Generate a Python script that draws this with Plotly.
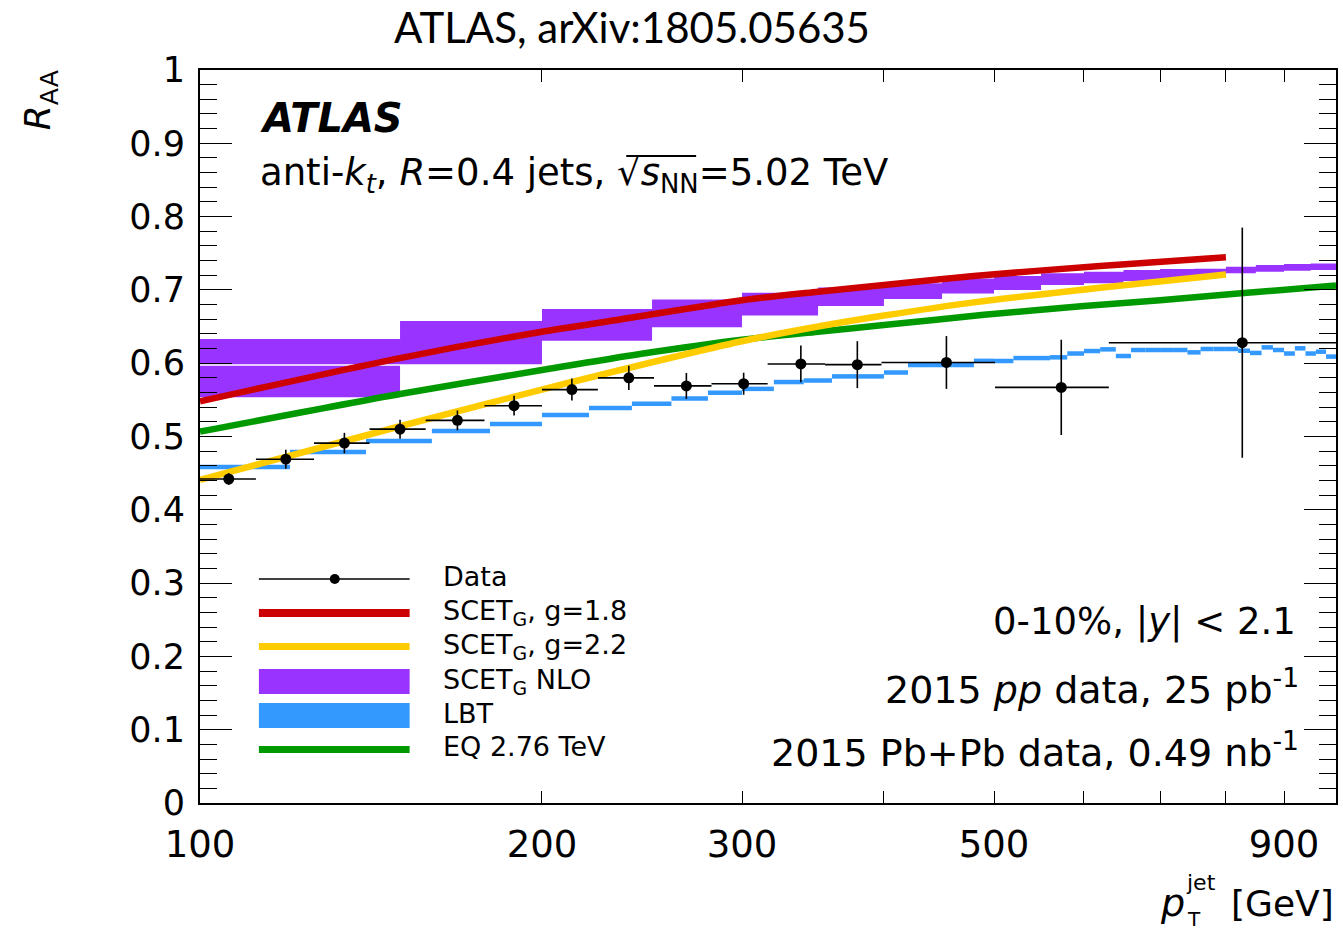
import plotly.graph_objects as go

# ---------------- ATLAS jet R_AA, 0-10% centrality ----------------
pt_lo = [100, 112, 126, 141, 158, 178, 200, 224, 251, 282, 316, 355, 398, 501, 631]
pt_hi = [112, 126, 141, 158, 178, 200, 224, 251, 282, 316, 355, 398, 501, 631, 1000]
pt_c = [106, 119, 134, 150, 168.5, 189, 212.5, 238.5, 268, 301, 338, 379, 454, 573, 827]
raa = [0.442, 0.469, 0.491, 0.510, 0.522, 0.542, 0.564, 0.580, 0.569, 0.572,
       0.599, 0.598, 0.601, 0.567, 0.628]
raa_err = [0.008, 0.013, 0.014, 0.013, 0.0135, 0.0135, 0.015, 0.0165, 0.0177, 0.015,
           0.025, 0.032, 0.036, 0.065, 0.157]

# ---------------- SCET_G, g = 1.8 ----------------
scet18_pt = [100, 150, 200, 235, 300, 350, 400, 480, 620, 800]
scet18 = [0.548, 0.607, 0.643, 0.660, 0.686, 0.6976, 0.7067, 0.719, 0.7326, 0.7444]

# ---------------- SCET_G, g = 2.2 ----------------
scet22_pt = [100, 150, 212, 300, 350, 400, 480, 620, 800]
scet22 = [0.441, 0.514, 0.574, 0.630, 0.650, 0.665, 0.683, 0.703, 0.721]

# ---------------- EQ 2.76 TeV ----------------
eq_pt = [100, 150, 200, 244, 300, 350, 400, 490, 600, 700, 820, 1000]
eq = [0.5066, 0.558, 0.5907, 0.6126, 0.632, 0.643, 0.652, 0.666, 0.678, 0.686, 0.695, 0.706]

# ---------------- SCET_G NLO band (bin edges, lower, upper) ----------------
nlo_lo = [100, 100, 150, 200, 250, 300, 350, 400, 450, 500, 550, 600, 650, 700, 750,
          800, 850, 900, 950]
nlo_hi = [150, 150, 200, 250, 300, 350, 400, 450, 500, 550, 600, 650, 700, 750, 800,
          850, 900, 950, 1000]
nlo_min = [0.5535, 0.5985, 0.5985, 0.6305, 0.649, 0.665, 0.678, 0.6875, 0.695, 0.6998,
           0.7067, 0.709, 0.712, 0.7155, 0.718, 0.7226, 0.7249, 0.726, 0.7271]
nlo_max = [0.5965, 0.633, 0.6576, 0.674, 0.687, 0.696, 0.7033, 0.709, 0.7155, 0.719,
           0.7226, 0.7249, 0.7271, 0.7285, 0.729, 0.7317, 0.734, 0.7353, 0.736]

# ---------------- LBT, 20 GeV bins from 100 to 1000 GeV ----------------
lbt_edges = list(range(100, 1001, 20))
lbt = [0.4584, 0.479, 0.494, 0.5075, 0.517, 0.5295, 0.539, 0.5448, 0.552, 0.5596,
       0.565, 0.5743, 0.5764, 0.582, 0.582, 0.5873, 0.5975, 0.5975, 0.5975, 0.6032,
       0.603, 0.607, 0.607, 0.608, 0.6132, 0.6166, 0.6189, 0.6098, 0.618, 0.618,
       0.618, 0.618, 0.6148, 0.6194, 0.6194, 0.6194, 0.617, 0.614, 0.6216, 0.618,
       0.6132, 0.6203, 0.6132, 0.6157, 0.609]

# labelled and unlabelled x ticks
x_tickvals = [100, 200, 300, 500, 900]
x_ticktext = ["100", "200", "300", "500", "900"]
x_minorvals = [400, 600, 700, 800, 1000]

RED = "#CC0000"
YELLOW = "#FFCC00"
PURPLE = "#9933FF"
BLUE = "#3399FF"
GREEN = "#009900"
FONT = "DejaVu Sans"

W, H = 1343, 937
ML, MR, MT, MB = 200, 5, 70, 134
PW = W - ML - MR
PH = H - MT - MB


def xp(px):
    return (px - ML) / PW


def yp(py):
    return (H - MB - py) / PH


fig = go.Figure()

# NLO band as filled boxes
bx, by = [], []
for lo, hi, ylo, yhi in zip(nlo_lo, nlo_hi, nlo_min, nlo_max):
    bx += [lo, hi, hi, lo, lo, None]
    by += [ylo, ylo, yhi, yhi, ylo, None]
fig.add_trace(go.Scatter(x=bx, y=by, mode="lines", fill="toself", fillcolor=PURPLE,
                         line=dict(width=0, color=PURPLE), hoverinfo="skip"))

# LBT as separate horizontal bars
lx, ly = [], []
for i, v in enumerate(lbt):
    lx += [lbt_edges[i], lbt_edges[i + 1], None]
    ly += [v, v, None]
fig.add_trace(go.Scatter(x=lx, y=ly, mode="lines", line=dict(color=BLUE, width=4.5),
                         hoverinfo="skip"))

# theory curves
fig.add_trace(go.Scatter(x=eq_pt, y=eq, mode="lines",
                         line=dict(color=GREEN, width=6.5, shape="spline", smoothing=0.8)))
fig.add_trace(go.Scatter(x=scet22_pt, y=scet22, mode="lines",
                         line=dict(color=YELLOW, width=6.5, shape="spline", smoothing=0.8)))
fig.add_trace(go.Scatter(x=scet18_pt, y=scet18, mode="lines",
                         line=dict(color=RED, width=6.5, shape="spline", smoothing=0.8)))

# data points
fig.add_trace(go.Scatter(
    x=pt_c, y=raa, mode="markers",
    marker=dict(color="black", size=11),
    error_y=dict(type="data", array=raa_err, width=0, thickness=1.6, color="black"),
    error_x=dict(type="data", array=[h - c for h, c in zip(pt_hi, pt_c)],
                 arrayminus=[c - l for c, l in zip(pt_c, pt_lo)],
                 width=0, thickness=1.6, color="black"),
))

shapes = []
annotations = []


def text(px, py, s, size=36, xanchor="left", yanchor="middle", **kw):
    annotations.append(dict(x=xp(px), y=yp(py), xref="paper", yref="paper", text=s,
                            showarrow=False, xanchor=xanchor, yanchor=yanchor,
                            font=dict(family=FONT, size=size, color="black"), **kw))


def rect(x0, x1, y0, y1, color):
    shapes.append(dict(type="rect", xref="paper", yref="paper", x0=xp(x0), x1=xp(x1),
                       y0=yp(y1), y1=yp(y0), fillcolor=color, line=dict(width=0)))


# title
annotations.append(dict(x=xp(633), y=yp(27), xref="paper", yref="paper",
                        text="ATLAS, arXiv:1805.05635", showarrow=False,
                        xanchor="center", yanchor="middle",
                        font=dict(family="Lato", size=42, color="black")))

# y-axis title
text(40, 100, "<i>R</i><sub>AA</sub>", size=36, xanchor="center", textangle=-90)

# x-axis title
text(1160, 903, "<i>p</i>", size=38)
text(1186, 882, "jet", size=22)
text(1187, 919, "T", size=20)
text(1338, 903, "[GeV]", size=36, xanchor="right")

# in-plot labels
text(258, 118, "<b><i>ATLAS</i></b>", size=40)
text(258, 175, "anti-<i>k</i><sub><i>t</i></sub>, <i>R</i>=0.4 jets, "
               "√<i>s</i><sub>NN</sub>=5.02 TeV", size=37)
# overline of the square root
shapes.append(dict(type="line", xref="paper", yref="paper", x0=xp(627), x1=xp(697),
                   y0=yp(156), y1=yp(156), line=dict(color="black", width=2)))

text(1300, 621, "0-10%, |<i>y</i>| &lt; 2.1", size=37, xanchor="right")
text(1303, 687, "2015 <i>pp</i> data, 25 pb<sup>-1</sup>", size=38, xanchor="right")
text(1303, 750, "2015 Pb+Pb data, 0.49 nb<sup>-1</sup>", size=38, xanchor="right")

# legend
leg_x0, leg_x1, leg_tx = 259, 410, 441
shapes.append(dict(type="line", xref="paper", yref="paper", x0=xp(leg_x0), x1=xp(leg_x1),
                   y0=yp(579), y1=yp(579), line=dict(color="black", width=1.5)))
shapes.append(dict(type="circle", xref="paper", yref="paper", x0=xp(330), x1=xp(340),
                   y0=yp(584), y1=yp(574), fillcolor="black", line=dict(width=0)))
rect(leg_x0, leg_x1, 609, 617, RED)
rect(leg_x0, leg_x1, 643, 650, YELLOW)
rect(leg_x0, leg_x1, 669, 694, PURPLE)
rect(leg_x0, leg_x1, 703, 728, BLUE)
rect(leg_x0, leg_x1, 746, 753, GREEN)
text(leg_tx, 576, "Data", size=27)
text(leg_tx, 612, "SCET<sub>G</sub>, g=1.8", size=27)
text(leg_tx, 646, "SCET<sub>G</sub>, g=2.2", size=27)
text(leg_tx, 681, "SCET<sub>G</sub> NLO", size=27)
text(leg_tx, 713, "LBT", size=27)
text(leg_tx, 746, "EQ 2.76 TeV", size=27)

fig.update_layout(
    width=W, height=H,
    margin=dict(l=ML, r=MR, t=MT, b=MB),
    plot_bgcolor="white", paper_bgcolor="white",
    showlegend=False,
    shapes=shapes, annotations=annotations,
    font=dict(family=FONT, color="black"),
)
fig.update_xaxes(type="log", range=[2, 3], tickmode="array",
                 tickvals=x_tickvals, ticktext=x_ticktext,
                 ticks="inside", ticklen=12, tickwidth=1.3, tickcolor="black",
                 minor=dict(tickmode="array", tickvals=x_minorvals, ticks="inside",
                            ticklen=12, tickwidth=1.3, tickcolor="black", showgrid=False),
                 showline=True, linewidth=2, linecolor="black", mirror="ticks",
                 showgrid=False, zeroline=False, ticklabelstandoff=8,
                 tickfont=dict(family=FONT, size=37, color="black"))
fig.update_yaxes(range=[0, 1], dtick=0.1, tick0=0,
                 ticks="inside", ticklen=32, tickwidth=1.3, tickcolor="black",
                 minor=dict(dtick=0.02, ticks="inside", ticklen=17, tickwidth=1.3,
                            tickcolor="black"),
                 showline=True, linewidth=2, linecolor="black", mirror="ticks",
                 showgrid=False, zeroline=False, ticklabelstandoff=6,
                 tickfont=dict(family=FONT, size=35, color="black"))

fig.write_html("out.html")
